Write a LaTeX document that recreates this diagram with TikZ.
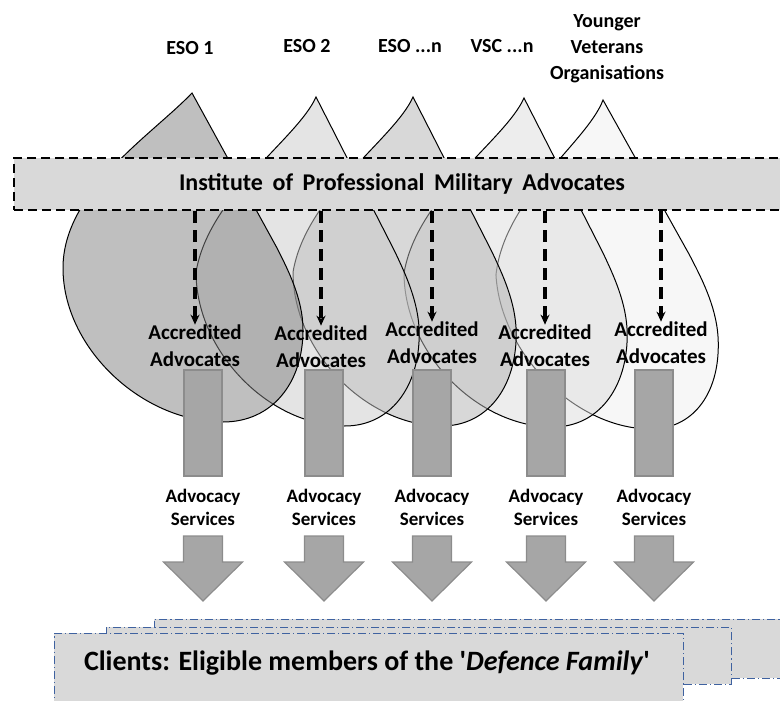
\documentclass[tikz,border=0pt]{standalone}
\usepackage{fontspec}
\setmainfont{Carlito}
\usetikzlibrary{positioning, arrows.meta}

\definecolor{clientblue}{HTML}{3F62A0}

\tikzset{
  droplet/.style={draw=black, line width=0.5pt, fill opacity=0.5},
  % \lx, \mx: how far the left flank of the drop swings out
  drop/.pic={
    \path[pic actions] (0,0) .. controls (\lx,42) and (\mx,98) .. (-129,175)
      .. controls (-129,255) and (-50,329) .. (31,329)
      .. controls (80,329) and (111,290) .. (111,237)
      .. controls (111,205) and (95,175) .. (85,155) -- cycle;
  },
  org/.style={font=\fontsize{10}{13}\selectfont\bfseries, align=center},
  banner/.style={draw, fill=black!15, line width=1pt, dash pattern=on 4.5pt off 2.5pt,
    minimum width=388pt, minimum height=26pt, font=\fontsize{12}{14}\selectfont\bfseries},
  accred/.style={font=\fontsize{10.5}{13.5}\selectfont\bfseries, align=center, inner sep=0pt},
  link/.style={line width=1.6pt, dash pattern=on 6pt off 3.5pt, -{Stealth[length=5pt, width=4.5pt]}},
  bar/.style={draw=black!45, fill=black!35, line width=0.6pt, minimum width=19pt,
    minimum height=53pt, inner sep=0pt},
  service/.style={font=\fontsize{9.5}{11.5}\selectfont\bfseries, align=center, inner sep=0pt},
  flow/.pic={
    \path[pic actions] (-19.5,0) -- (19.5,0) -- (19.5,26) -- (39.5,26) -- (0,65)
      -- (-39.5,26) -- (-19.5,26) -- cycle;
  },
  clientbox/.style={draw=clientblue, fill=black!15, line width=0.5pt,
    dash pattern=on 4pt off 1.5pt on 0.6pt off 1.5pt, inner sep=0pt}
}

\begin{document}
\begin{tikzpicture}[x=0.5pt, y=-0.5pt]
  \useasboundingbox (0,0) rectangle (780,700);

  % organisations
  \node[org] (eso1) at (190,48) {ESO 1};
  \node[org] (eso2) at (307,46) {ESO 2};
  \node[org] (eson) at (410,46) {ESO ...n};
  \node[org] (vscn) at (502,46) {VSC ...n};
  \node[org] (yvo) at (607,49) {Younger\\Veterans\\Organisations};

  % drops, back to front
  \foreach \tx/\ty/\sx/\sk/\shade/\lx/\mx in {603/100/0.91/-0.065/6/-20/-115,
      524/98/0.93/0/14/-20/-115, 413/97/0.93/0/30/-20/-115,
      316/97/0.93/0/21/-20/-115, 192/93/1/0/50/-40/-129}
    \pic[droplet, fill=black!\shade, xscale=\sx, xslant=\sk] at (\tx,\ty) {drop};

  \node[banner] (ipma) at (402,184)
    {\spaceskip=0.4em Institute of Professional Military Advocates};

  \foreach \i/\ax/\ay/\bx in {1/195/346/203, 2/321/347/324, 3/432/343/432,
      4/545/346/546, 5/661/343/654} {
    \node[accred] (acc\i) at (\ax,\ay) {Accredited\\Advocates};
    \draw[link] (acc\i |- ipma.south) -- (acc\i.north);
    \node[bar] (bar\i) at (\bx,423) {};
    \node[service, below=6pt of bar\i] (serv\i) {Advocacy\\Services};
    \pic[draw=black!45, fill=black!35, line width=0.6pt] at (\bx,536) {flow};
  }

  % clients
  \node[clientbox, minimum width=323pt, minimum height=29.5pt] (back) at (477,648.5) {};
  \node[clientbox, minimum width=312.5pt, minimum height=28.5pt] (middle) at (418.5,655.5) {};
  \node[clientbox, minimum width=314.5pt, minimum height=36pt] (front) at (368.5,669) {};
  \node[font=\fontsize{14}{16}\selectfont\bfseries] (clients) at (367,663)
    {Clients: Eligible members of the \textquotesingle\textit{Defence Family}\textquotesingle};
\end{tikzpicture}
\end{document}
